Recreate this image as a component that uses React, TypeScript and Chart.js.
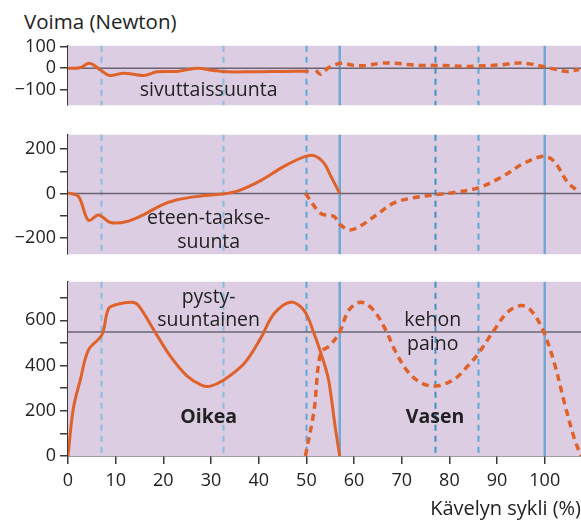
import React, { useEffect, useRef } from "react";
import { Chart, registerables } from "chart.js";

Chart.register(...registerables);

// ---------- DATA ----------
// Lateral force (sivuttaissuunta)
const latRightX = [0, 2.5, 4.5, 6.8, 8.7, 11.7, 15.9, 18.7, 22.9, 27.1, 30.6, 33.4, 40, 45, 50.5];
const latRightY = [0, 2, 23, -8, -34, -23, -34, -17, -15, 0, -11, -17, -16, -15, -14];
const latLeftX = [52, 53, 54.5, 56, 57.5, 60, 62.8, 65.6, 68.7, 71.2, 74, 77.1, 80.3, 83.1, 85.9, 88.7, 91.5, 94.3, 96.8, 99.6, 102, 104.8, 107.2];
const latLeftY = [-10, -28, 0, 16, 23, 13, 13, 23, 23, 17, 13, 13, 11, 8, 10, 13, 17, 24, 20, 8, -4, -15, -6];

// Fore-aft force (eteen-taakse-suunta)
const apRightX = [0, 2.2, 4.3, 6.4, 8.9, 12.4, 15.9, 19.4, 22.9, 27.8, 32.3, 35.5, 40.4, 45.3, 49.5, 51.6, 53.7, 55.1, 57];
const apRightY = [2, -14, -122, -98, -132, -127, -96, -55, -29, -12, -3, 10, 58, 122, 165, 171, 137, 79, 0];
const apLeftX = [49.8, 53, 55.8, 57.2, 59.3, 62.1, 64.9, 68.4, 71.9, 76.8, 81, 85.9, 90.8, 95.7, 99.9, 102, 104.8, 107.2];
const apLeftY = [0, -90, -105, -144, -165, -137, -94, -43, -22, -7, 4, 24, 72, 137, 168, 144, 50, 7];

// Vertical force (pystysuuntainen)
const vRightX = [0, 1.1, 2.6, 4.3, 7.1, 8.5, 10.3, 13.4, 14.8, 18, 21.5, 25, 28.1, 29.9, 32.3, 36.9, 40.4, 43.2, 46.7, 49.5, 51.6, 53.7, 54.7, 56.1, 57];
const vRightY = [0, 208, 338, 469, 535, 651, 670, 680, 665, 557, 440, 353, 312, 309, 331, 408, 520, 629, 680, 644, 542, 411, 331, 120, 0];
const vLeftX = [49.8, 51.6, 53, 55, 57, 58.9, 61.4, 63.8, 66.3, 68.7, 71.2, 74, 77.1, 81, 83.8, 85.9, 89.4, 92.2, 95, 97.1, 99.6, 102, 104.1, 106.2, 107.6];
const vLeftY = [0, 200, 455, 490, 549, 644, 680, 651, 571, 462, 375, 324, 309, 339, 397, 448, 557, 636, 665, 644, 557, 411, 237, 77, 0];

const bodyWeight = 548;

// event lines (% of gait cycle)
const dashedLines = [7, 32.5, 50, 77, 86];
const solidLines = [57, 100];

const xTicks = [0, 10, 20, 30, 40, 50, 60, 70, 80, 90, 100];
const latTicks = [-100, 0, 100];
const apTickLabels = [-200, 0, 200];
const vTickLabels = [0, 200, 400, 600];

// ---------- STYLE ----------
const FONT = "'Open Sans', 'Noto Sans', sans-serif";
const ORANGE = "#df622b";
const PURPLE = "#dccde3";
const AXIS = "#3a3a3a";
const REFLINE = "#6a6570";
const dashedColors = ["#86bde0", "#86bde0", "#5ea6d6", "#3f8fc7", "#5ea6d6"];
const SOLIDBLUE = "#72a8d2";

const X_MIN = 0;
const X_MAX = 107.6;
const LEFT = 68;

function pts(xs: number[], ys: number[]) {
  return xs.map((x, i) => ({ x, y: ys[i] }));
}

const fmt = (v: number) => (v < 0 ? "\u2212" + Math.abs(v) : String(v));

function makePanelPlugin(refY: number, labels: { text: string; x: number; y: number; bold?: boolean }[]) {
  return {
    id: "panelDeco",
    beforeDatasetsDraw(chart: any) {
      const { ctx, chartArea } = chart;
      const xs = chart.scales.x;
      const ys = chart.scales.y;
      ctx.save();
      ctx.fillStyle = PURPLE;
      ctx.fillRect(chartArea.left, chartArea.top, chartArea.right - chartArea.left, chartArea.bottom - chartArea.top);
      dashedLines.forEach((v, i) => {
        const px = Math.round(xs.getPixelForValue(v)) + 0.5;
        ctx.beginPath();
        ctx.setLineDash([6, 5]);
        ctx.lineWidth = 2;
        ctx.strokeStyle = dashedColors[i];
        ctx.moveTo(px, chartArea.top);
        ctx.lineTo(px, chartArea.bottom);
        ctx.stroke();
      });
      ctx.setLineDash([]);
      solidLines.forEach((v) => {
        const px = xs.getPixelForValue(v);
        ctx.beginPath();
        ctx.lineWidth = 2.5;
        ctx.strokeStyle = SOLIDBLUE;
        ctx.moveTo(px, chartArea.top);
        ctx.lineTo(px, chartArea.bottom);
        ctx.stroke();
      });
      const py = ys.getPixelForValue(refY);
      ctx.beginPath();
      ctx.lineWidth = 1.5;
      ctx.strokeStyle = REFLINE;
      ctx.moveTo(chartArea.left, py);
      ctx.lineTo(chartArea.right, py);
      ctx.stroke();
      ctx.fillStyle = "#222";
      ctx.textAlign = "center";
      ctx.textBaseline = "middle";
      labels.forEach((l) => {
        ctx.font = (l.bold ? "bold " : "") + "19.5px " + FONT;
        ctx.fillText(l.text, xs.getPixelForValue(l.x), ys.getPixelForValue(l.y));
      });
      ctx.restore();
    },
  };
}

function lineDs(data: { x: number; y: number }[], dashed: boolean) {
  return {
    data,
    borderColor: ORANGE,
    borderWidth: dashed ? 3.5 : 3,
    borderDash: dashed ? [7, 5] : [],
    pointRadius: 0,
    tension: 0.35,
    fill: false,
  };
}

function makeConfig(opts: {
  datasets: any[];
  yMin: number;
  yMax: number;
  step: number;
  labelVals: number[];
  showX: boolean;
  plugin: any;
}) {
  return {
    type: "line",
    data: { datasets: opts.datasets },
    plugins: [opts.plugin],
    options: {
      animation: false,
      responsive: false,
      maintainAspectRatio: false,
      layout: { padding: { top: 12, bottom: opts.showX ? 0 : 12, left: 0, right: 0 } },
      plugins: { legend: { display: false }, tooltip: { enabled: false } },
      scales: {
        x: {
          type: "linear",
          min: X_MIN,
          max: X_MAX,
          display: opts.showX,
          afterBuildTicks(scale: any) {
            scale.ticks = xTicks.map((v) => ({ value: v }));
          },
          ticks: {
            font: { family: FONT, size: 18 },
            color: "#222",
            padding: 6,
            maxRotation: 0,
          },
          grid: { drawOnChartArea: false, drawTicks: true, tickLength: 8, color: AXIS, lineWidth: 1.5 },
          border: { display: true, color: AXIS, width: 1.5 },
          title: {
            display: true,
            text: "Kävelyn sykli (%)",
            align: "end",
            color: "#222",
            font: { family: FONT, size: 20 },
            padding: { top: 2, bottom: 0 },
          },
          afterFit(scale: any) {
            scale.height = opts.showX ? 65 : 0;
          },
        },
        y: {
          type: "linear",
          min: opts.yMin,
          max: opts.yMax,
          afterBuildTicks(scale: any) {
            const t: any[] = [];
            const start = Math.ceil(opts.yMin / opts.step) * opts.step;
            for (let v = start; v <= opts.yMax; v += opts.step) t.push({ value: v });
            scale.ticks = t;
          },
          ticks: {
            font: { family: FONT, size: 18 },
            color: "#222",
            padding: 4,
            callback: (v: number) => (opts.labelVals.includes(v) ? fmt(v) : ""),
          },
          grid: { drawOnChartArea: false, drawTicks: true, tickLength: 8, color: AXIS, lineWidth: 1.5 },
          border: { display: true, color: AXIS, width: 1.5 },
          afterFit(scale: any) {
            scale.width = LEFT;
          },
        },
      },
    },
  };
}

function Panel(props: { top: number; height: number; config: any }) {
  const ref = useRef<HTMLCanvasElement>(null);
  useEffect(() => {
    const chart = new Chart(ref.current as HTMLCanvasElement, props.config);
    return () => chart.destroy();
  }, []);
  return (
    <canvas
      ref={ref}
      width={581}
      height={props.height}
      style={{ position: "absolute", left: 0, top: props.top, width: 581, height: props.height }}
    />
  );
}

export default function App() {
  const cfg1 = makeConfig({
    datasets: [lineDs(pts(latRightX, latRightY), false), lineDs(pts(latLeftX, latLeftY), true)],
    yMin: -172,
    yMax: 104,
    step: 100,
    labelVals: latTicks,
    showX: false,
    plugin: makePanelPlugin(0, [{ text: "sivuttaissuunta", x: 29.5, y: -105 }]),
  });
  const cfg2 = makeConfig({
    datasets: [lineDs(pts(apRightX, apRightY), false), lineDs(pts(apLeftX, apLeftY), true)],
    yMin: -275,
    yMax: 265,
    step: 100,
    labelVals: apTickLabels,
    showX: false,
    plugin: makePanelPlugin(0, [
      { text: "eteen-taakse-", x: 29.5, y: -112 },
      { text: "suunta", x: 29.5, y: -220 },
    ]),
  });
  const cfg3 = makeConfig({
    datasets: [lineDs(pts(vRightX, vRightY), false), lineDs(pts(vLeftX, vLeftY), true)],
    yMin: 0,
    yMax: 770,
    step: 100,
    labelVals: vTickLabels,
    showX: true,
    plugin: makePanelPlugin(bodyWeight, [
      { text: "pysty-", x: 29.5, y: 700 },
      { text: "suuntainen", x: 29.5, y: 600 },
      { text: "kehon", x: 76.5, y: 600 },
      { text: "paino", x: 76.5, y: 495 },
      { text: "Oikea", x: 29.5, y: 170, bold: true },
      { text: "Vasen", x: 77, y: 170, bold: true },
    ]),
  });
  return (
    <div style={{ position: "fixed", left: 0, top: 0, width: 581, height: 520, background: "#fff", overflow: "hidden" }}>
      <div
        style={{
          position: "absolute",
          left: 24,
          top: 7,
          fontFamily: FONT,
          fontSize: 20.5,
          color: "#222",
          lineHeight: "28px",
          whiteSpace: "nowrap",
        }}
      >
        Voima (Newton)
      </div>
      <Panel top={31} height={89} config={cfg1} />
      <Panel top={120} height={149} config={cfg2} />
      <Panel top={267} height={254} config={cfg3} />
    </div>
  );
}
